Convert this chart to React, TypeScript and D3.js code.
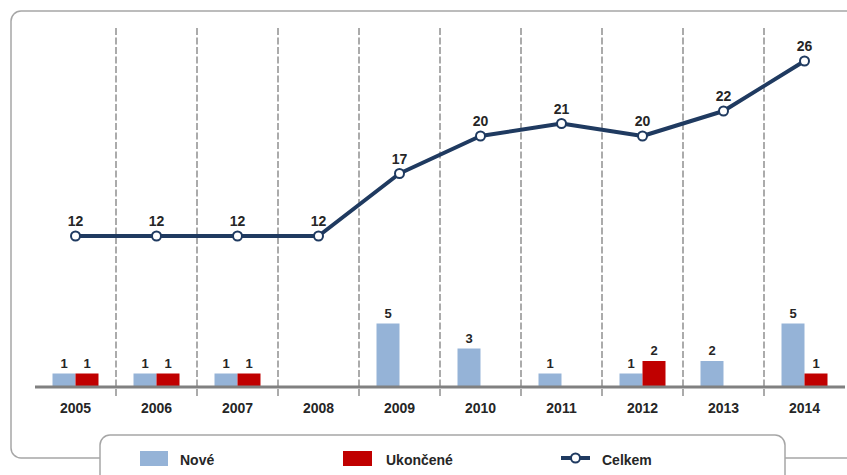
import { useEffect, useRef } from 'react';
import * as d3 from 'd3';

// Data
const YEARS = ['2005', '2006', '2007', '2008', '2009', '2010', '2011', '2012', '2013', '2014'];
const NOVE = [1, 1, 1, 0, 5, 3, 1, 1, 2, 5];
const UKONCENE = [1, 1, 1, 0, 0, 0, 0, 2, 0, 1];
const CELKEM = [12, 12, 12, 12, 17, 20, 21, 20, 22, 26];

const C_NOVE = '#95b3d7';
const C_UKON = '#c00000';
const C_LINE = '#1f3a60';
const TEXT = '#262626';
const FONT = '"Liberation Sans", Arial, sans-serif';

const W = 847;
const H = 475;

export default function App() {
  const svgRef = useRef<SVGSVGElement | null>(null);

  useEffect(() => {
    if (!svgRef.current) return;
    const svg = d3.select(svgRef.current);
    svg.selectAll('*').remove();

    const x = d3.scaleBand<string>().domain(YEARS).range([35, 845]);
    const y = d3.scaleLinear().domain([0, 28]).range([386, 36]);
    const sub = d3.scaleBand<string>().domain(['n', 'u']).range([0, 46]);
    const off = (x.bandwidth() - 46) / 2;

    // outer frame
    svg.append('rect')
      .attr('x', 11).attr('y', 11)
      .attr('width', 900).attr('height', 447)
      .attr('rx', 10)
      .attr('fill', '#fff')
      .attr('stroke', '#a6a6a6')
      .attr('stroke-width', 1.5);

    // dashed separators between years
    YEARS.slice(1).forEach((yr) => {
      svg.append('line')
        .attr('x1', x(yr)!).attr('x2', x(yr)!)
        .attr('y1', 28).attr('y2', 397)
        .attr('stroke', '#7f7f7f')
        .attr('stroke-width', 1.3)
        .attr('stroke-dasharray', '7,2.5');
    });

    // bars
    const bars = [
      { key: 'n', vals: NOVE, color: C_NOVE },
      { key: 'u', vals: UKONCENE, color: C_UKON },
    ];
    bars.forEach((s) => {
      s.vals.forEach((v, i) => {
        if (!v) return;
        const bx = x(YEARS[i])! + off + sub(s.key)!;
        svg.append('rect')
          .attr('x', bx).attr('y', y(v))
          .attr('width', sub.bandwidth()).attr('height', y(0) - y(v))
          .attr('fill', s.color);
        svg.append('text')
          .attr('x', bx + sub.bandwidth() / 2)
          .attr('y', y(v) - 6)
          .attr('text-anchor', 'middle')
          .attr('font-family', FONT).attr('font-weight', 'bold').attr('font-size', 13)
          .attr('fill', TEXT)
          .text(v);
      });
    });

    // x axis line + labels
    svg.append('line')
      .attr('x1', 35).attr('x2', 845)
      .attr('y1', y(0) + 1).attr('y2', y(0) + 1)
      .attr('stroke', '#808080').attr('stroke-width', 3);

    YEARS.forEach((yr) => {
      svg.append('text')
        .attr('x', x(yr)! + x.bandwidth() / 2)
        .attr('y', 413)
        .attr('text-anchor', 'middle')
        .attr('font-family', FONT).attr('font-weight', 'bold').attr('font-size', 14)
        .attr('fill', TEXT)
        .text(yr);
    });

    // Celkem line
    const pts: [number, number][] = CELKEM.map((v, i) => [x(YEARS[i])! + x.bandwidth() / 2, y(v)]);
    svg.append('path')
      .attr('d', d3.line()(pts))
      .attr('fill', 'none')
      .attr('stroke', C_LINE)
      .attr('stroke-width', 4)
      .attr('stroke-linejoin', 'round');

    pts.forEach(([px, py], i) => {
      svg.append('circle')
        .attr('cx', px).attr('cy', py).attr('r', 4.5)
        .attr('fill', '#fff')
        .attr('stroke', C_LINE).attr('stroke-width', 2);
      svg.append('text')
        .attr('x', px).attr('y', py - 10)
        .attr('text-anchor', 'middle')
        .attr('font-family', FONT).attr('font-weight', 'bold').attr('font-size', 14)
        .attr('fill', TEXT)
        .text(CELKEM[i]);
    });

    // legend box
    svg.append('rect')
      .attr('x', 100).attr('y', 435)
      .attr('width', 685).attr('height', 80)
      .attr('rx', 10)
      .attr('fill', '#fff')
      .attr('stroke', '#a6a6a6')
      .attr('stroke-width', 1.5);

    const lg = svg.append('g').attr('font-family', FONT).attr('font-weight', 'bold').attr('font-size', 14).attr('fill', TEXT);
    lg.append('rect').attr('x', 140).attr('y', 451).attr('width', 28).attr('height', 15).attr('fill', C_NOVE);
    lg.append('text').attr('x', 180).attr('y', 465).text('Nové');
    lg.append('rect').attr('x', 343).attr('y', 451).attr('width', 29).attr('height', 15).attr('fill', C_UKON);
    lg.append('text').attr('x', 386).attr('y', 465).text('Ukončené');
    lg.append('line').attr('x1', 561).attr('x2', 590).attr('y1', 458).attr('y2', 458)
      .attr('stroke', C_LINE).attr('stroke-width', 4);
    lg.append('circle').attr('cx', 575.5).attr('cy', 458).attr('r', 4.5)
      .attr('fill', '#fff').attr('stroke', C_LINE).attr('stroke-width', 2);
    lg.append('text').attr('x', 602).attr('y', 465).text('Celkem');
  }, []);

  return (
    <svg
      ref={svgRef}
      width={W}
      height={H}
      style={{ position: 'absolute', left: 0, top: 0, display: 'block', background: '#fff' }}
    />
  );
}
